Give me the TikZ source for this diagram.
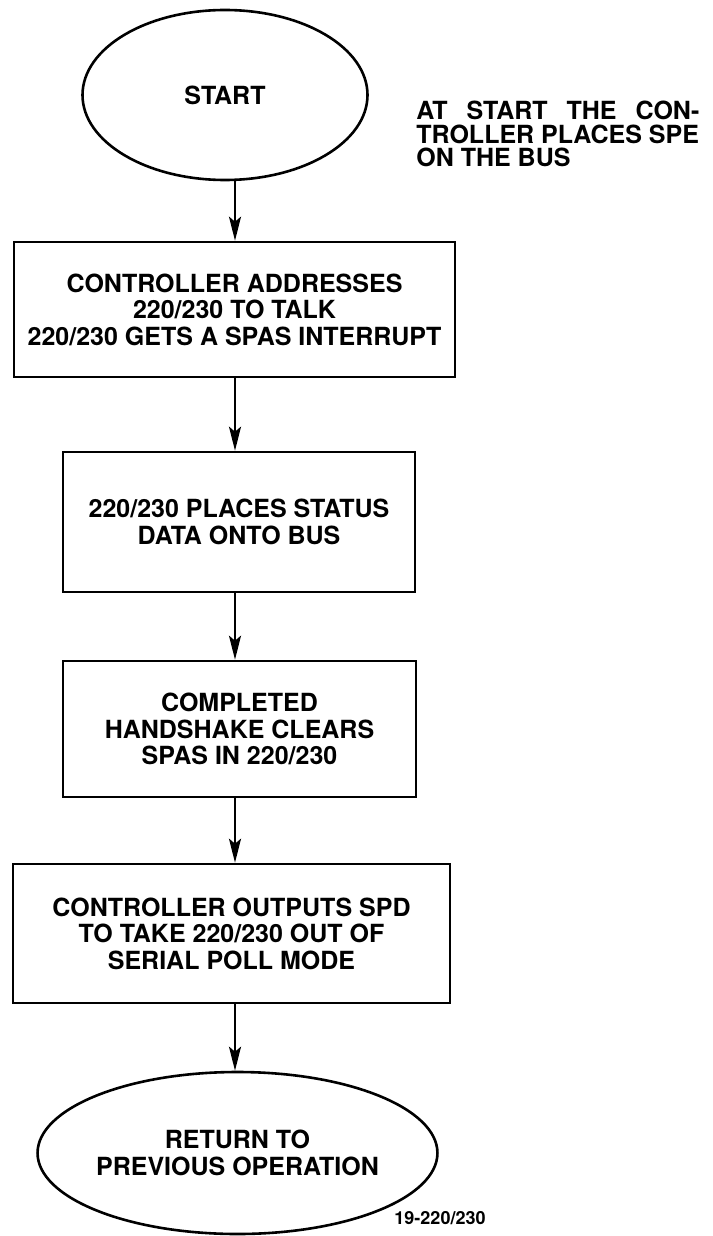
\documentclass[tikz,border=0pt]{standalone}
\usepackage{fontspec}
\setmainfont{TeX Gyre Heros}
\usetikzlibrary{arrows.meta,shapes.geometric}
\begin{document}
\begin{tikzpicture}[x=1pt,y=-1pt,line width=2.6pt,
  font=\bfseries\fontsize{25}{26.5}\selectfont,
  box/.style={draw,rectangle,align=center,inner sep=0pt},
  term/.style={draw,ellipse,align=center,inner sep=0pt},
  arr/.style={-{Stealth[length=24pt,width=12pt,inset=5pt]},line width=2.4pt},
  notetext/.style={anchor=north west,align=left,inner sep=0pt,font=\bfseries\fontsize{25}{23.5}\selectfont},
  figlabel/.style={inner sep=0pt,font=\bfseries\fontsize{18}{20}\selectfont}]
\useasboundingbox (0,0) rectangle (712,1236);
\coordinate (ax) at (235,0);
\node[term,minimum width=285pt,minimum height=170pt] (start) at (225,95) {START};
\node[notetext] (note) at (415,100) {\makebox[283pt][s]{AT START THE CON-}\\TROLLER PLACES SPE\\ON THE BUS};
\node[box,minimum width=441pt,minimum height=135pt] (b1) at (234.5,309.5)
  {CONTROLLER ADDRESSES\\220/230 TO TALK\\220/230 GETS A SPAS INTERRUPT};
\node[box,minimum width=352pt,minimum height=140pt] (b2) at (239,522)
  {220/230 PLACES STATUS\\DATA ONTO BUS};
\node[box,minimum width=353pt,minimum height=136pt] (b3) at (239.5,729)
  {COMPLETED\\HANDSHAKE CLEARS\\SPAS IN 220/230};
\node[box,minimum width=437pt,minimum height=139pt] (b4) at (231.5,933.5)
  {CONTROLLER OUTPUTS SPD\\TO TAKE 220/230 OUT OF\\SERIAL POLL MODE};
\node[term,minimum width=305pt,minimum height=162pt] (end) at (237.5,1153)
  {RETURN TO\\PREVIOUS OPERATION};
\node[figlabel] (fig) at (440,1218) {19-220/230};
\draw[arr] (start.south -| ax) -- (b1.north -| ax);
\draw[arr] (b1.south -| ax) -- (b2.north -| ax);
\draw[arr] (b2.south -| ax) -- (b3.north -| ax);
\draw[arr] (b3.south -| ax) -- (b4.north -| ax);
\draw[arr] (b4.south -| ax) -- (end.north -| ax);
\end{tikzpicture}
\end{document}
